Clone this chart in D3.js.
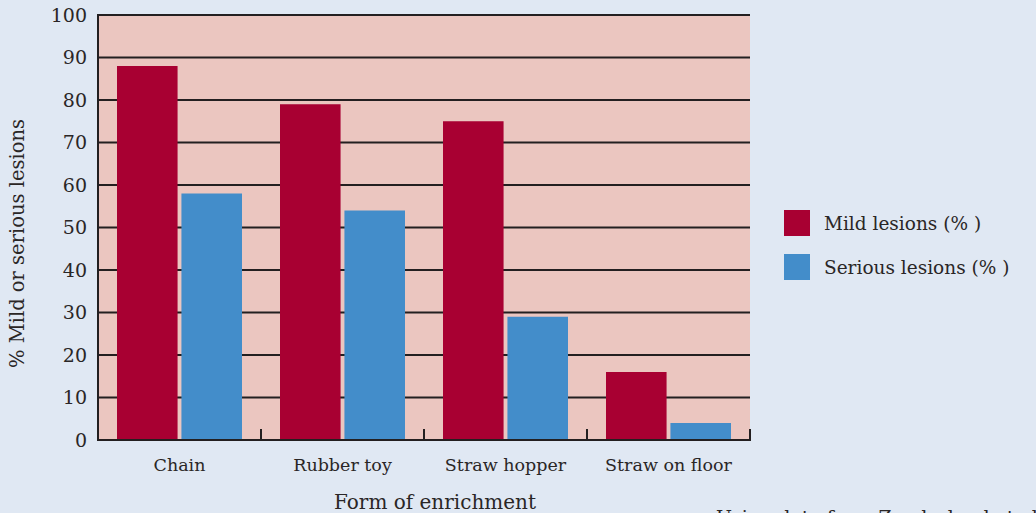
<!DOCTYPE html>
<html>
<head>
<meta charset="utf-8">
<script src="https://cdn.jsdelivr.net/npm/d3@7"></script>
<style>
  body { margin: 0; background: #e0e8f3; }
  text { font-family: "DejaVu Serif", "Liberation Serif", serif; fill: #2a2626; }
</style>
</head>
<body>
<div id="chart"></div>
<script>
// data
var categories = ["Chain", "Rubber toy", "Straw hopper", "Straw on floor"];
var mildLesions = [88, 79, 75, 16];
var seriousLesions = [58, 54, 29, 4];
var seriesNames = ["Mild lesions (% )", "Serious lesions (% )"];
var yTicks = [0, 10, 20, 30, 40, 50, 60, 70, 80, 90, 100];

var svgWidth = 1036;
var svgHeight = 513;

var margin = { top: 15, right: 286, bottom: 73, left: 98 };
var width = svgWidth - margin.left - margin.right;
var height = svgHeight - margin.top - margin.bottom;

var colors = ["#a80032", "#438dca"];

var svg = d3.select("#chart")
    .append("svg")
    .attr("width", svgWidth)
    .attr("height", svgHeight);

svg.append("rect")
    .attr("width", svgWidth)
    .attr("height", svgHeight)
    .attr("fill", "#e0e8f3");

var chartGroup = svg.append("g")
    .attr("transform", `translate(${margin.left}, ${margin.top})`);

var xScale = d3.scaleBand()
    .domain(categories)
    .range([0, width]);

var yScale = d3.scaleLinear()
    .domain([0, 100])
    .range([height, 0]);

// plot background
chartGroup.append("rect")
    .attr("width", width)
    .attr("height", height)
    .attr("fill", "#ebc6c0");

// gridlines
chartGroup.selectAll(".grid")
    .data(yTicks.slice(1))
    .enter()
    .append("line")
    .attr("x1", 0)
    .attr("x2", width)
    .attr("y1", d => yScale(d))
    .attr("y2", d => yScale(d))
    .attr("stroke", "#231f20")
    .attr("stroke-width", 2);

// bars
var inner = d3.scaleBand()
    .domain([0, 1])
    .range([19, xScale.bandwidth() - 19])
    .paddingInner(0.06);

var series = [mildLesions, seriousLesions];

series.forEach(function(values, i) {
    chartGroup.selectAll(".bar" + i)
        .data(values)
        .enter()
        .append("rect")
        .attr("x", (d, j) => xScale(categories[j]) + inner(i))
        .attr("y", d => yScale(d))
        .attr("width", inner.bandwidth())
        .attr("height", d => height - yScale(d))
        .attr("fill", colors[i]);
});

// y axis
var leftAxis = d3.axisLeft(yScale)
    .tickValues(yTicks)
    .tickSize(0)
    .tickPadding(11);

var yAxis = chartGroup.append("g").call(leftAxis);
yAxis.select(".domain").remove();
yAxis.attr("font-size", null);
yAxis.selectAll("text")
    .style("font-size", "19px")
    .style("font-family", "'DejaVu Serif', serif")
    .attr("fill", "#2a2626");

chartGroup.append("line")
    .attr("x1", 0).attr("x2", 0)
    .attr("y1", -1).attr("y2", height + 1)
    .attr("stroke", "#231f20")
    .attr("stroke-width", 2);

// x axis with upward ticks at band edges
var bottomAxis = d3.axisBottom(xScale)
    .tickSize(0)
    .tickPadding(19);

var xAxis = chartGroup.append("g")
    .attr("transform", `translate(0, ${height})`)
    .call(bottomAxis);
xAxis.select(".domain").remove();
xAxis.attr("font-size", null);
xAxis.selectAll("text")
    .style("font-size", "17.5px")
    .style("font-family", "'DejaVu Serif', serif")
    .attr("fill", "#2a2626");

chartGroup.append("line")
    .attr("x1", -1).attr("x2", width + 1)
    .attr("y1", height).attr("y2", height)
    .attr("stroke", "#231f20")
    .attr("stroke-width", 2);

chartGroup.selectAll(".sep")
    .data(categories)
    .enter()
    .append("line")
    .attr("x1", d => xScale(d) + xScale.bandwidth())
    .attr("x2", d => xScale(d) + xScale.bandwidth())
    .attr("y1", height)
    .attr("y2", height - 11)
    .attr("stroke", "#231f20")
    .attr("stroke-width", 2);

// axis titles
svg.append("text")
    .attr("transform", `translate(24, ${margin.top + height / 2 + 16}) rotate(-90)`)
    .attr("text-anchor", "middle")
    .style("font-size", "19.5px")
    .text("% Mild or serious lesions");

svg.append("text")
    .attr("x", 435)
    .attr("y", 509)
    .attr("text-anchor", "middle")
    .style("font-size", "20px")
    .text("Form of enrichment");

svg.append("text")
    .attr("x", 716)
    .attr("y", 524)
    .style("font-size", "19px")
    .text("Using data from Zonderland et al");

// legend
var legend = svg.append("g")
    .attr("transform", "translate(784, 210)");

seriesNames.forEach(function(name, i) {
    legend.append("rect")
        .attr("x", 0)
        .attr("y", i * 44)
        .attr("width", 26)
        .attr("height", 26)
        .attr("fill", colors[i]);
    legend.append("text")
        .attr("x", 40)
        .attr("y", i * 44 + 20)
        .style("font-size", "18.5px")
        .text(name);
});
</script>
</body>
</html>
